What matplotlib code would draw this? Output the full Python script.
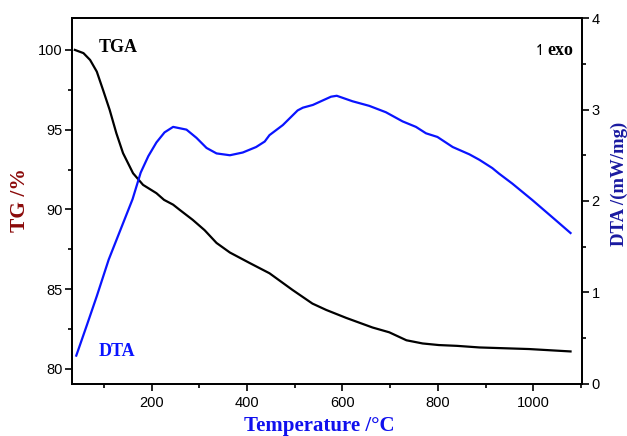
import matplotlib
matplotlib.use("Agg")
import matplotlib.pyplot as plt
from matplotlib.ticker import MultipleLocator

# TGA mass curve (temperature in °C, mass in %)
tga_temp = [39, 57, 71, 85, 98, 112, 126, 140, 161, 182, 210, 226, 245, 259, 286, 311,
            336, 364, 405, 447, 495, 537, 566, 608, 663, 698, 734, 768, 802, 840, 887,
            991, 1078]
tga_mass = [100.0, 99.8, 99.37, 98.64, 97.5, 96.24, 94.78, 93.53, 92.27, 91.54, 91.02,
            90.6, 90.3, 89.97, 89.35, 88.7, 87.9, 87.3, 86.65, 86.0, 84.96, 84.1, 83.7,
            83.2, 82.6, 82.3, 81.8, 81.6, 81.5, 81.45, 81.35, 81.25, 81.1]

# DTA signal (temperature in °C, heat flow in mW/mg)
dta_temp = [42, 64, 85, 110, 135, 160, 177, 193, 210, 227, 245, 273, 294, 315,
            336, 364, 391, 419, 437, 447, 475, 506, 517, 538, 559, 576, 588, 621, 656,
            691, 726, 754, 775, 799, 831, 866, 887, 914, 928, 956, 998, 1047, 1078]
dta_val = [0.31, 0.64, 0.96, 1.36, 1.69, 2.02, 2.31, 2.49, 2.64, 2.75, 2.81,
           2.78, 2.69, 2.58, 2.52, 2.50, 2.53, 2.59, 2.65, 2.72, 2.83, 2.99, 3.02, 3.05,
           3.10, 3.14, 3.15, 3.09, 3.04, 2.97, 2.87, 2.81, 2.74, 2.70, 2.59, 2.51, 2.45,
           2.36, 2.30, 2.19, 2.01, 1.79, 1.65]

serif = "Liberation Serif"
sans = "Liberation Sans"

fig = plt.figure(figsize=(6.27, 4.36), dpi=100)
ax = fig.add_axes([0.1148, 0.1193, 0.8134, 0.8394])
ax2 = ax.twinx()

ax.plot(tga_temp, tga_mass, color="black", lw=1.6)
ax2.plot(dta_temp, dta_val, color="#0a14ff", lw=1.6)

ax.set_xlim(33, 1102)
ax.set_ylim(79.06, 102.0)
ax2.set_ylim(0, 4)

ax.xaxis.set_major_locator(MultipleLocator(200))
ax.xaxis.set_minor_locator(MultipleLocator(100))
ax.yaxis.set_major_locator(MultipleLocator(5))
ax.yaxis.set_minor_locator(MultipleLocator(2.5))
ax2.yaxis.set_major_locator(MultipleLocator(1))
ax2.yaxis.set_minor_locator(MultipleLocator(0.5))

for a in (ax, ax2):
    for s in a.spines.values():
        s.set_linewidth(1.3)
    a.tick_params(which="major", direction="out", length=5, width=1.2,
                  labelsize=10.5, pad=2)
    a.tick_params(which="minor", direction="out", length=3, width=1.2)
    for lab in a.get_xticklabels() + a.get_yticklabels():
        lab.set_fontfamily(sans)

ax.tick_params(axis="x", pad=4)

# Axis titles placed in figure coordinates
fig.text(0.509, 0.024, "Temperature /°C", fontfamily=serif, fontweight="bold",
         fontsize=15, color="#1010ee", ha="center", va="center")
fig.text(0.032, 0.541, "TG /%", fontfamily=serif, fontweight="bold", fontsize=15.5,
         color="#8b0a0a", ha="center", va="center", rotation=90)
fig.text(0.988, 0.578, "DTA /(mW/mg)", fontfamily=serif, fontweight="bold",
         fontsize=13.5, color="#1a1aa0", ha="center", va="center", rotation=90)

ax.text(88, 100.15, "TGA", fontfamily=serif, fontweight="bold", fontsize=13,
        color="black", va="center", ha="left")
ax2.text(88, 0.35, "DTA", fontfamily=serif, fontweight="bold", fontsize=13,
         color="#0a14ff", va="center", ha="left")
ax2.text(1030, 3.64, "exo", fontfamily=serif, fontweight="bold", fontsize=13,
         color="black", va="center", ha="left")
ax2.text(1028, 3.64, "\u21bf", fontfamily="DejaVu Sans", fontsize=11,
         color="black", va="center", ha="right")

fig.savefig("out.png", dpi=100)
